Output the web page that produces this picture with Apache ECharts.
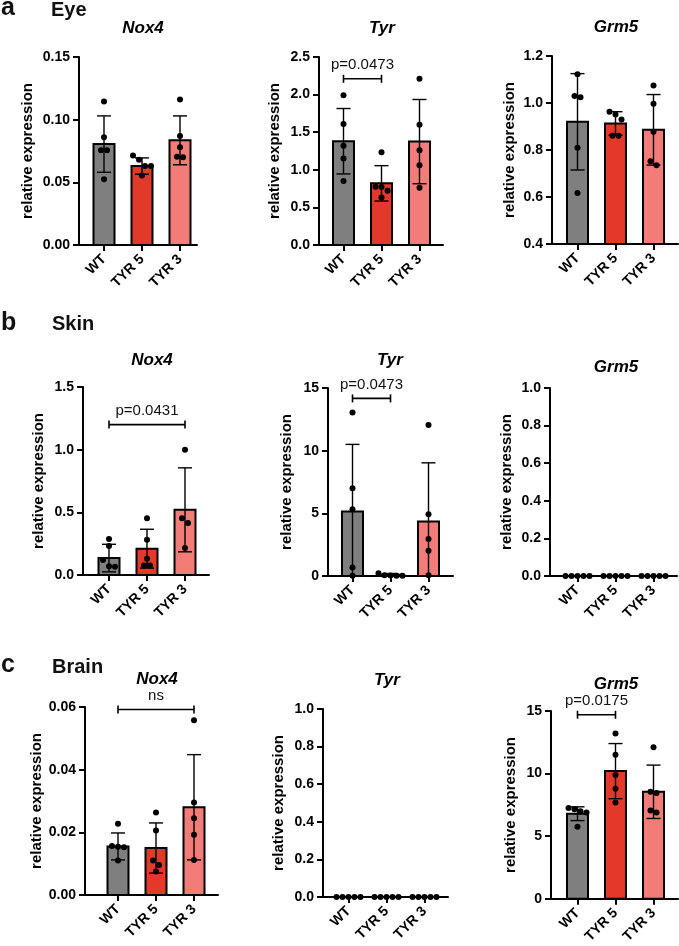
<!DOCTYPE html>
<html><head><meta charset="utf-8">
<script src="https://cdn.jsdelivr.net/npm/echarts@6/dist/echarts.min.js"></script>
<style>html,body{margin:0;padding:0;background:#fff}#c{width:679px;height:946px}</style>
</head><body><div id="c"></div>
<script>
// ---------- DATA ----------
const groups = ['WT', 'TYR 5', 'TYR 3'];
const genes = ['Nox4', 'Tyr', 'Grm5'];
const tissues = ['Eye', 'Skin', 'Brain'];
const panelLetters = ['a', 'b', 'c'];
const yTitle = 'relative expression';

// Eye
const eyeNox4Ticks = ['0.00', '0.05', '0.10', '0.15'];
const eyeNox4Mean = [0.0805, 0.063, 0.0835];
const eyeNox4SD = [0.0225, 0.0065, 0.0195];
const eyeNox4Points = [[0.1145, 0.086, 0.0755, 0.0755, 0.0525], [0.0715, 0.068, 0.063, 0.063, 0.0555], [0.116, 0.087, 0.078, 0.0705, 0.070]];

const eyeTyrTicks = ['0.0', '0.5', '1.0', '1.5', '2.0', '2.5'];
const eyeTyrMean = [1.38, 0.82, 1.375];
const eyeTyrSD = [0.435, 0.235, 0.56];
const eyeTyrPoints = [[1.99, 1.61, 1.32, 1.15, 0.85], [1.235, 0.775, 0.77, 0.72, 0.63], [2.21, 1.60, 1.26, 1.06, 0.76]];
const eyeTyrSig = [1, 2, 2.21, 'p=0.0473'];

const eyeGrm5Ticks = ['0.4', '0.6', '0.8', '1.0', '1.2'];
const eyeGrm5Mean = [0.92, 0.913, 0.886];
const eyeGrm5SD = [0.205, 0.05, 0.15];
const eyeGrm5Points = [[1.122, 1.03, 1.025, 0.81, 0.617], [0.963, 0.951, 0.93, 0.861, 0.861], [1.075, 0.997, 0.878, 0.752, 0.735]];

// Skin
const skinNox4Ticks = ['0.0', '0.5', '1.0', '1.5'];
const skinNox4Mean = [0.135, 0.21, 0.52];
const skinNox4SD = [0.11, 0.155, 0.335];
const skinNox4Points = [[0.287, 0.232, 0.12, 0.069, 0.066], [0.452, 0.282, 0.13, 0.075, 0.075], [1.0, 0.452, 0.415, 0.215]];
const skinNox4Sig = [1, 3, 1.2, 'p=0.0431'];

const skinTyrTicks = ['0', '5', '10', '15'];
const skinTyrMean = [5.15, 0.1, 4.35];
const skinTyrSD = [5.35, 0.1, 4.68];
const skinTyrPoints = [[13.05, 7.0, 5.33, 0.67, 0.02], [0.02, 0.22, 0.05, 0.03, 0.02], [12.04, 4.93, 2.96, 2.02, 0.05]];
const skinTyrSig = [1, 2, 14.17, 'p=0.0473'];

const skinGrm5Ticks = ['0.0', '0.2', '0.4', '0.6', '0.8', '1.0'];
const skinGrm5Mean = [0, 0, 0];
const skinGrm5SD = [0, 0, 0];
const skinGrm5Points = [[0, 0, 0, 0, 0], [0, 0, 0, 0, 0], [0, 0, 0, 0, 0]];

// Brain
const brainNox4Ticks = ['0.00', '0.02', '0.04', '0.06'];
const brainNox4Mean = [0.0155, 0.015, 0.028];
const brainNox4SD = [0.0043, 0.008, 0.0168];
const brainNox4Points = [[0.0227, 0.0156, 0.0154, 0.0152, 0.011], [0.0263, 0.0206, 0.011, 0.0096, 0.0075], [0.0558, 0.0295, 0.0245, 0.0192, 0.0112]];
const brainNox4Sig = [1, 3, 0.0592, 'ns'];

const brainTyrTicks = ['0.0', '0.2', '0.4', '0.6', '0.8', '1.0'];
const brainTyrMean = [0, 0, 0];
const brainTyrSD = [0, 0, 0];
const brainTyrPoints = [[0, 0, 0, 0, 0], [0, 0, 0, 0, 0], [0, 0, 0, 0, 0]];

const brainGrm5Ticks = ['0', '5', '10', '15'];
const brainGrm5Mean = [6.8, 10.2, 8.55];
const brainGrm5SD = [0.55, 2.2, 2.13];
const brainGrm5Points = [[7.25, 7.15, 7.0, 6.9, 5.75], [13.2, 11.5, 9.9, 8.8, 7.7], [12.1, 8.55, 8.45, 7.05, 6.9]];
const brainGrm5Sig = [1, 2, 14.7, 'p=0.0175'];

// ---------- STYLE / LAYOUT ----------
const barColors = ['#7f7f7f', '#e2392b', '#f27c78'];
const FONT = 'Liberation Sans, Arial, Helvetica, sans-serif';
const STEP = 38; // px per category
// [axisX, top, bottom, firstCatOffset, axisEndX, nameGap]
const layout = [
  [79, 57, 245, 25, 197, 44], [319, 57, 245, 24.5, 443, 37], [552, 56, 244, 25.5, 678, 35],
  [83, 387, 575, 26, 209, 37], [328, 388, 576, 24.5, 453, 34], [550, 388, 576, 27.5, 677, 36],
  [85, 707, 895, 33, 218, 39], [323, 709, 897, 25.5, 448, 37], [551, 711, 899, 26.5, 678, 33]
];
const titlePos = [[143, 28], [382, 28], [616, 27], [152, 360], [390, 360], [616, 367], [157, 679], [387, 680], [616, 684]];
const headerPos = [[1, 8.5, 51, 10], [1, 323.3, 52, 324], [1, 665, 52, 667.3]];

const panels = [
  [eyeNox4Ticks, eyeNox4Mean, eyeNox4SD, eyeNox4Points, null],
  [eyeTyrTicks, eyeTyrMean, eyeTyrSD, eyeTyrPoints, eyeTyrSig],
  [eyeGrm5Ticks, eyeGrm5Mean, eyeGrm5SD, eyeGrm5Points, null],
  [skinNox4Ticks, skinNox4Mean, skinNox4SD, skinNox4Points, skinNox4Sig],
  [skinTyrTicks, skinTyrMean, skinTyrSD, skinTyrPoints, skinTyrSig],
  [skinGrm5Ticks, skinGrm5Mean, skinGrm5SD, skinGrm5Points, null],
  [brainNox4Ticks, brainNox4Mean, brainNox4SD, brainNox4Points, brainNox4Sig],
  [brainTyrTicks, brainTyrMean, brainTyrSD, brainTyrPoints, null],
  [brainGrm5Ticks, brainGrm5Mean, brainGrm5SD, brainGrm5Points, brainGrm5Sig]
];

function swarmOffsets(ys, d, s) {
  const idx = ys.map((y, i) => i).sort((a, b) => ys[a] - ys[b]);
  const off = new Array(ys.length).fill(0);
  let cluster = [];
  const flush = () => {
    const n = cluster.length;
    cluster.forEach((ii, k) => { off[ii] = (k - (n - 1) / 2) * s; });
    cluster = [];
  };
  idx.forEach((ii, j) => {
    if (j > 0 && ys[ii] - ys[idx[j - 1]] >= d) flush();
    cluster.push(ii);
  });
  flush();
  return off;
}

const grid = [], xAxis = [], yAxis = [], series = [];
panels.forEach((p, i) => {
  const [ticks, mean, sd, pts, sig] = p;
  const L = layout[i];
  const yMin = parseFloat(ticks[0]);
  const yMax = parseFloat(ticks[ticks.length - 1]);
  const yInt = (yMax - yMin) / (ticks.length - 1);
  const xMin = 1 - L[3] / STEP;
  const xMax = xMin + (L[4] - L[0]) / STEP;
  grid.push({ left: L[0], top: L[1], width: L[4] - L[0], height: L[2] - L[1] });
  xAxis.push({
    gridIndex: i, type: 'value', min: xMin, max: xMax,
    axisLine: { show: true, onZero: false, lineStyle: { color: '#000', width: 2 } },
    axisTick: { show: true, customValues: [1, 2, 3], length: 6, inside: false, lineStyle: { color: '#000', width: 2 } },
    axisLabel: { show: true, customValues: [1, 2, 3], rotate: 45, margin: 12, color: '#000', fontSize: 14, fontWeight: 'bold', fontFamily: FONT,
      formatter: v => groups[Math.round(v) - 1] || '' },
    splitLine: { show: false }
  });
  yAxis.push({
    gridIndex: i, type: 'value', min: yMin, max: yMax, interval: yInt,
    name: yTitle, nameLocation: 'middle', nameRotate: 90, nameGap: L[5],
    nameTextStyle: { color: '#000', fontSize: 15, fontWeight: 'bold', fontFamily: FONT },
    axisLine: { show: true, lineStyle: { color: '#000', width: 2 } },
    axisTick: { show: true, length: 6, inside: false, lineStyle: { color: '#000', width: 2 } },
    axisLabel: { color: '#000', fontSize: 14, fontWeight: 'bold', fontFamily: FONT, margin: 9,
      formatter: v => ticks[Math.round((v - yMin) / yInt)] },
    splitLine: { show: false }
  });
  // bars
  series.push({
    type: 'custom', xAxisIndex: i, yAxisIndex: i, z: 2, clip: false,
    data: mean.map((m, k) => [k + 1, m]),
    renderItem: (params, api) => {
      const x = api.value(0), m = api.value(1);
      const top = api.coord([x, m]);
      const base = api.coord([x, yMin]);
      const w = 21;
      return { type: 'rect', shape: { x: top[0] - w / 2, y: top[1], width: w, height: base[1] - top[1] },
        style: { fill: barColors[x - 1], stroke: '#000', lineWidth: 2 } };
    }
  });
  // error bars (mean ± SD)
  series.push({
    type: 'custom', xAxisIndex: i, yAxisIndex: i, z: 3, clip: false,
    data: mean.map((m, k) => [k + 1, m, sd[k]]),
    renderItem: (params, api) => {
      const x = api.value(0), m = api.value(1), s = api.value(2);
      if (!s) return { type: 'group', children: [] };
      const lo = Math.max(m - s, yMin), hi = m + s;
      const a = api.coord([x, hi]), b = api.coord([x, lo]);
      const cw = 7;
      const st = { stroke: '#000', lineWidth: 1.4 };
      const ch = [
        { type: 'line', shape: { x1: a[0], y1: a[1], x2: b[0], y2: b[1] }, style: st },
        { type: 'line', shape: { x1: a[0] - cw, y1: a[1], x2: a[0] + cw, y2: a[1] }, style: st }
      ];
      if (lo > yMin) ch.push({ type: 'line', shape: { x1: b[0] - cw, y1: b[1], x2: b[0] + cw, y2: b[1] }, style: st });
      return { type: 'group', children: ch };
    }
  });
  // individual points
  const flat = [];
  pts.forEach((arr, g) => arr.forEach((v, k) => flat.push([g + 1, v, k])));
  series.push({
    type: 'custom', xAxisIndex: i, yAxisIndex: i, z: 4, clip: false,
    data: flat,
    renderItem: (params, api) => {
      const g = api.value(0), v = api.value(1), k = api.value(2);
      const ys = pts[g - 1].map(val => api.coord([g, val])[1]);
      const off = swarmOffsets(ys, 6.5, 6);
      const c = api.coord([g, v]);
      return { type: 'circle', shape: { cx: c[0] + off[k], cy: c[1], r: 3 }, style: { fill: '#000' } };
    }
  });
  // significance bracket
  if (sig) {
    series.push({
      type: 'custom', xAxisIndex: i, yAxisIndex: i, z: 5, clip: false,
      data: [[sig[0], sig[2], sig[1]]],
      renderItem: (params, api) => {
        const x1 = api.value(0), y = api.value(1), x2 = api.value(2);
        const a = api.coord([x1, y]), b = api.coord([x2, y]);
        const st = { stroke: '#000', lineWidth: 1.6 };
        const hh = 4;
        return { type: 'group', children: [
          { type: 'line', shape: { x1: a[0], y1: a[1], x2: b[0], y2: b[1] }, style: st },
          { type: 'line', shape: { x1: a[0], y1: a[1] - hh, x2: a[0], y2: a[1] + hh }, style: st },
          { type: 'line', shape: { x1: b[0], y1: b[1] - hh, x2: b[0], y2: b[1] + hh }, style: st },
          { type: 'text', x: (a[0] + b[0]) / 2, y: a[1] - 13.5,
            style: { text: sig[3], fill: '#111', fontSize: 15, fontFamily: FONT, align: 'center', verticalAlign: 'middle' } }
        ] };
      }
    });
  }
});

const graphic = [];
panels.forEach((p, i) => {
  graphic.push({ type: 'text', x: titlePos[i][0], y: titlePos[i][1],
    style: { text: genes[i % 3], fill: '#000', fontSize: 17, fontWeight: 'bold', fontStyle: 'italic', fontFamily: FONT, align: 'center', verticalAlign: 'middle' } });
});
tissues.forEach((t, r) => {
  const h = headerPos[r];
  graphic.push({ type: 'text', x: h[0], y: h[1],
    style: { text: panelLetters[r], fill: '#111', fontSize: 25, fontWeight: 'bold', fontFamily: FONT, align: 'left', verticalAlign: 'middle' } });
  graphic.push({ type: 'text', x: h[2], y: h[3],
    style: { text: t, fill: '#111', fontSize: 20, fontWeight: 'bold', fontFamily: FONT, align: 'left', verticalAlign: 'middle' } });
});

const chart = echarts.init(document.getElementById('c'), null, { renderer: 'canvas' });
chart.setOption({
  backgroundColor: '#fff',
  animation: false,
  textStyle: { fontFamily: FONT },
  grid, xAxis, yAxis, series, graphic
});
</script>
</body></html>
